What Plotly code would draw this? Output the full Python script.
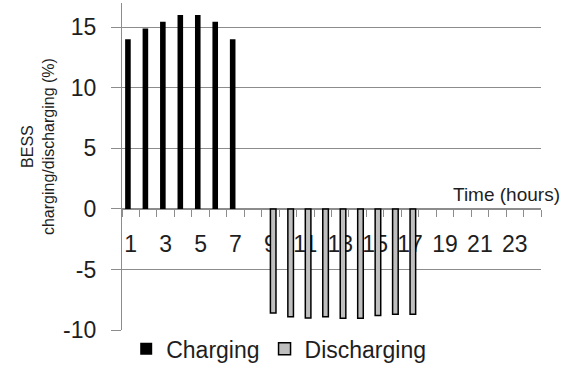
import plotly.graph_objects as go

hours = list(range(1, 25))
charging = [14.0, 14.9, 15.45, 16.0, 16.0, 15.45, 14.0] + [None] * 17
discharging = [None] * 8 + [-8.6, -8.9, -9.0, -8.9, -9.03, -9.03, -8.8, -8.7, -8.7] + [None] * 7
xtick_vals = list(range(1, 24, 2))
xtick_text = [str(v) for v in xtick_vals]
ytick_vals = [-10, -5, 0, 5, 10, 15]
ytick_text = ["-10", "-5", "0", "5", "10", "15"]

y_min, y_max = -10, 17
font = "Liberation Sans, Arial, sans-serif"
axis_grey = "#8c8c8c"
text_col = "#1e1e1e"

fig = go.Figure()
fig.add_trace(go.Bar(x=hours, y=charging, name="Charging",
                     marker=dict(color="black", line=dict(color="black", width=0))))
fig.add_trace(go.Bar(x=hours, y=discharging, name="Discharging",
                     marker=dict(color="#bfbfbf", line=dict(color="black", width=1.5))))

zero_pos = (0 - y_min) / (y_max - y_min)

fig.update_layout(
    width=561, height=368,
    margin=dict(l=122, r=20, t=3, b=38, autoexpand=False),
    plot_bgcolor="white", paper_bgcolor="white",
    barmode="group", bargap=0.36, bargroupgap=0,
    font=dict(family=font, size=23, color=text_col),
    showlegend=True,
    legend=dict(orientation="h", x=0.374, xanchor="center",
                yref="container", y=0.052, yanchor="middle",
                font=dict(size=23, color=text_col), traceorder="normal",
                itemwidth=30, tracegroupgap=0),
    xaxis=dict(
        range=[0.5, 24.5], tickmode="array", tickvals=xtick_vals, ticktext=xtick_text,
        ticks="", showgrid=False, zeroline=False,
        showline=True, linecolor=axis_grey, linewidth=1.2,
        anchor="free", position=zero_pos, side="bottom",
        layer="below traces",
        ticklabelstandoff=14,
        tickfont=dict(size=23, color=text_col),
        minor=dict(tickmode="linear", tick0=0.5, dtick=1, ticks="outside",
                   ticklen=7, tickcolor=axis_grey, tickwidth=1, showgrid=False),
    ),
    yaxis=dict(
        range=[y_min, y_max], tickmode="array", tickvals=ytick_vals, ticktext=ytick_text,
        showgrid=True, gridcolor=axis_grey, gridwidth=1.2,
        zeroline=True, zerolinecolor=axis_grey, zerolinewidth=1.2,
        showline=True, linecolor=axis_grey, linewidth=1.2,
        ticks="outside", ticklen=10, tickcolor=axis_grey, tickwidth=1.2,
        ticklabelstandoff=10,
        tickfont=dict(size=23, color=text_col),
    ),
    annotations=[
        dict(text="Time (hours)", xref="paper", yref="paper", x=1.05, y=zero_pos,
             xanchor="right", yanchor="bottom", yshift=2, showarrow=False,
             font=dict(size=19, color=text_col)),
        dict(text="BESS<br>charging/discharging (%)", xref="paper", yref="paper",
             x=-0.2, y=0.56, xanchor="center", yanchor="middle", textangle=-90,
             showarrow=False, font=dict(size=16, color=text_col)),
    ],
)

fig.write_html("out.html", config={"displayModeBar": False},
               post_script="document.body.style.margin='0';")
